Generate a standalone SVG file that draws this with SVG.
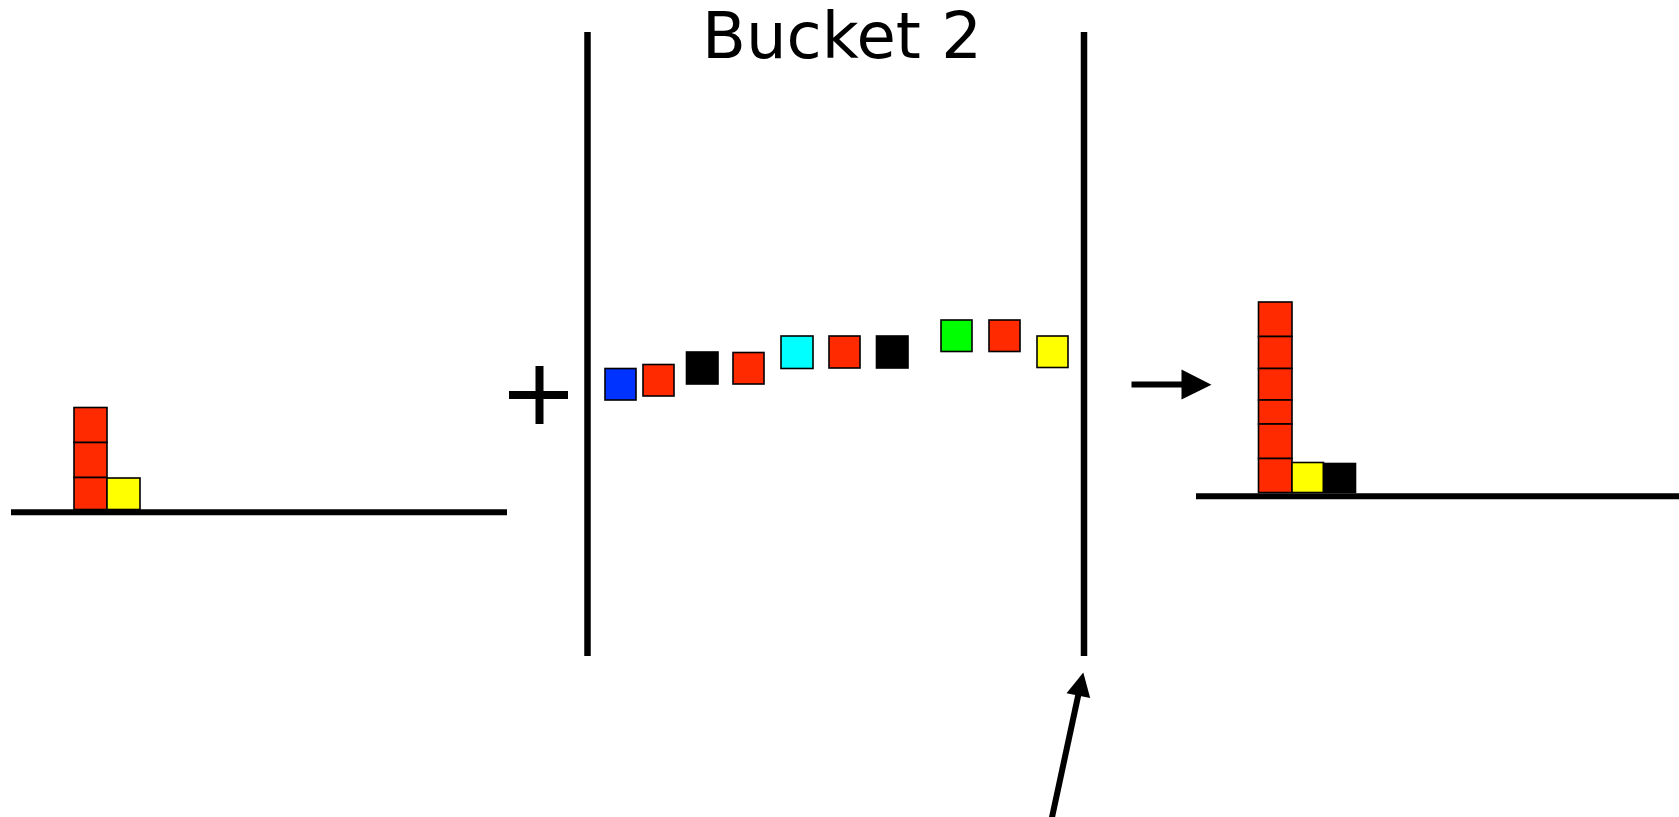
<svg xmlns="http://www.w3.org/2000/svg" width="1679" height="817" viewBox="0 0 1679 817">
  <style>
    .ground { stroke: #000; stroke-width: 6; fill: none; }
    .wall { stroke: #000; stroke-width: 6.5; fill: none; }
    .blk { stroke: #000; stroke-width: 1.6; }
    .red { fill: #ff2a00; }
    .yel { fill: #ffff00; }
    .blu { fill: #0033ff; }
    .grn { fill: #00ff00; }
    .cyn { fill: #00ffff; }
    .blk-fill { fill: #000; }
    .shaft { stroke: #000; stroke-width: 6; fill: none; }
    .head { fill: #000; }
    .title { font-family: "DejaVu Sans", "Liberation Sans", sans-serif; font-size: 64px; fill: #000; }
  </style>

  <!-- left pile: three red, one yellow on the floor -->
  <g id="left-pile">
    <line class="ground" x1="11" y1="512.3" x2="507" y2="512.3"/>
    <rect class="blk red" x="74" y="407.5" width="33" height="35"/>
    <rect class="blk red" x="74" y="442.5" width="33" height="35"/>
    <rect class="blk red" x="74" y="477.5" width="33" height="32"/>
    <rect class="blk yel" x="107" y="478" width="33" height="31.5"/>
  </g>

  <!-- plus sign -->
  <g id="plus">
    <rect x="509" y="391" width="59" height="8" fill="#000"/>
    <rect x="535.5" y="366" width="8" height="58" fill="#000"/>
  </g>

  <!-- bucket 2 with its falling items -->
  <g id="bucket-2">
    <text class="title" x="702" y="58">Bucket 2</text>
    <line class="wall" x1="587.5" y1="32" x2="587.5" y2="656"/>
    <line class="wall" x1="1084" y1="32" x2="1084" y2="656"/>
    <rect class="blk blu" x="605" y="368.5" width="31" height="31.5"/>
    <rect class="blk red" x="643" y="364.5" width="31" height="31.5"/>
    <rect class="blk blk-fill" x="686.5" y="352" width="31.5" height="32"/>
    <rect class="blk red" x="733" y="352.5" width="31" height="31.5"/>
    <rect class="blk cyn" x="781" y="336" width="32" height="32.5"/>
    <rect class="blk red" x="829" y="336" width="31" height="32"/>
    <rect class="blk blk-fill" x="876.5" y="336" width="31.5" height="32"/>
    <rect class="blk grn" x="941" y="320" width="31" height="31.5"/>
    <rect class="blk red" x="989" y="320" width="31" height="31.5"/>
    <rect class="blk yel" x="1037" y="336" width="31" height="31.5"/>
  </g>

  <!-- right pile: six red, one yellow, one black -->
  <g id="right-pile">
    <line class="ground" x1="1196" y1="496.3" x2="1679" y2="496.3"/>
    <rect class="blk red" x="1258.5" y="302" width="33.5" height="34.5"/>
    <rect class="blk red" x="1258.5" y="336.5" width="33.5" height="32"/>
    <rect class="blk red" x="1258.5" y="368.5" width="33.5" height="31.5"/>
    <rect class="blk red" x="1258.5" y="400" width="33.5" height="24"/>
    <rect class="blk red" x="1258.5" y="424" width="33.5" height="34.5"/>
    <rect class="blk red" x="1258.5" y="458.5" width="33.5" height="34"/>
    <rect class="blk yel" x="1292" y="462.5" width="31.5" height="30"/>
    <rect class="blk blk-fill" x="1323.5" y="463.5" width="32" height="29"/>
  </g>

  <g id="connectors">
    <line class="shaft" x1="1131.5" y1="384.5" x2="1183" y2="384.5"/>
    <polygon class="head" points="1181.5,369.5 1211.5,384.7 1181.5,399.5"/>
    <line class="shaft" x1="1051" y1="822" x2="1078.5" y2="694"/>
    <polygon class="head" points="1083.3,672.5 1066.5,693.3 1090.2,698"/>
  </g>
</svg>
